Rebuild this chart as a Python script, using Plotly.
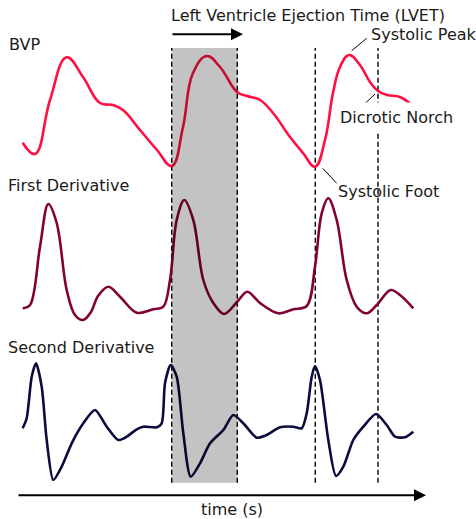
import plotly.graph_objects as go

W, H = 476, 519

# ---- data (time in arbitrary units, amplitudes in arbitrary units) ----
bvp_t = [22.7, 35, 50, 66.7, 83, 100, 113, 123, 140, 157, 171.7, 183, 193, 206.7, 220, 237, 247, 260,
         273, 290, 303, 315, 325, 333, 340, 349, 360, 370, 378, 387, 400, 411.7]
bvp_v = [27.3, 16, 70, 112.7, 93, 67, 65, 60, 40, 20, 4, 43, 97, 114, 103, 78, 74, 70,
         57, 33, 17, 3.3, 30, 77, 103, 115, 105, 88, 79, 75, 73, 65]

d1_t = [22.7, 30, 40, 48.3, 56.7, 66.7, 75, 83.3, 91, 98, 108.3, 120, 136.7, 153.3, 163.3, 170, 176.7, 184.3,
        193.3, 203.3, 213.3, 224, 237.3, 247.3, 260, 278.3, 293.3, 306.7, 315, 321.7, 328.3, 336.7,
        346.7, 356.7, 366.7, 376.7, 390.7, 400, 413.3]
d1_v = [11.7, 15, 73.3, 116, 97, 30, 5, 0, 8, 24, 33.3, 23.3, 7.3, 10.7, 13.3, 40, 100, 120,
        100, 40, 17, 6, 18.3, 28.3, 17, 6.7, 10.7, 14, 53.3, 106.7, 121.7, 100,
        40, 13.3, 6.7, 15, 30, 25, 11.7]

d2_t = [22.7, 26.7, 31.7, 36, 41.7, 46.7, 53.3, 61.7, 71.7, 83.3, 95, 106.7, 118.3, 126.7, 136.7, 143.3,
        156.7, 161.7, 165, 170.7, 176.7, 183.3, 190.7, 200, 210, 223.3, 233.3, 243.3, 256.7, 266.7,
        280, 293.3, 301.7, 306.7, 311.7, 315, 320, 328.3, 336, 343.3, 353.3, 363.3, 376, 386.7,
        395, 405, 413.3]
d2_v = [51.7, 61.7, 103.3, 116.7, 93.3, 40, 0, 13.3, 36.7, 56.7, 70, 53.3, 40, 43.3, 50.7, 53.3,
        52.7, 56.7, 96.7, 115, 103.3, 46.7, 3.3, 16.7, 36.7, 50, 65, 56.7, 42.3, 45,
        52.7, 53.3, 51.7, 66.7, 103.3, 114, 100, 40, 4, 13.3, 40, 53.3, 66, 55,
        43.3, 42.7, 48.3]

event_times = [171.7, 237.3, 315.3, 378.0]   # systolic foot / dicrotic notch markers
lvet_window = (171.7, 237.3)

labels = {
    "title": "Left Ventricle Ejection Time (LVET)",
    "bvp": "BVP",
    "d1": "First Derivative",
    "d2": "Second Derivative",
    "peak": "Systolic Peak",
    "notch": "Dicrotic Norch",
    "foot": "Systolic Foot",
    "xlabel": "time (s)",
}

# ---- helpers: pixel -> paper ----
def px(x):
    return x / W

def py(y):
    return 1 - y / H

FONT = dict(family="DejaVu Sans", size=16, color="#1a1a1a")

fig = go.Figure()

fig.add_trace(go.Scatter(x=bvp_t, y=bvp_v, mode="lines", line=dict(color="#ff1040", width=2.6, shape="spline", smoothing=1.2),
                         yaxis="y", hoverinfo="skip"))
fig.add_trace(go.Scatter(x=d1_t, y=d1_v, mode="lines", line=dict(color="#820035", width=2.6, shape="spline", smoothing=1.0),
                         yaxis="y2", hoverinfo="skip"))
fig.add_trace(go.Scatter(x=d2_t, y=d2_v, mode="lines", line=dict(color="#0b0b3d", width=2.6, shape="spline", smoothing=0.7),
                         yaxis="y3", hoverinfo="skip"))

def yrange(base_px):
    # amplitude v is drawn at pixel y = base_px - v
    return [base_px - H, base_px]

axis_common = dict(visible=False, fixedrange=True)
fig.update_layout(
    width=W, height=H,
    margin=dict(l=0, r=0, t=0, b=0),
    paper_bgcolor="white", plot_bgcolor="white",
    showlegend=False,
    xaxis=dict(range=[0, W], domain=[0, 1], **axis_common),
    yaxis=dict(range=yrange(170), domain=[0, 1], **axis_common),
    yaxis2=dict(range=yrange(320), domain=[0, 1], overlaying="y", **axis_common),
    yaxis3=dict(range=yrange(480), domain=[0, 1], overlaying="y", **axis_common),
)

shapes = []
shapes.append(dict(type="rect", xref="x", yref="paper", x0=lvet_window[0], x1=lvet_window[1],
                   y0=py(482.7), y1=py(48), fillcolor="rgba(0,0,0,0.235)", line=dict(width=0), layer="above"))
for t in event_times:
    shapes.append(dict(type="line", xref="x", yref="paper", x0=t, x1=t, y0=py(482.7), y1=py(48),
                       line=dict(color="black", width=1.4, dash="5px,3px"), layer="below"))
for (x0, y0, x1, y1) in [(351.7, 50.7, 366.7, 38.3), (375, 94, 360, 108.3), (322.7, 168.3, 336.7, 183.3)]:
    shapes.append(dict(type="line", xref="paper", yref="paper", x0=px(x0), y0=py(y0), x1=px(x1), y1=py(y1),
                       line=dict(color="black", width=1)))
fig.update_layout(shapes=shapes)

ann = []
def text(s, x, y, xanchor="left", bg=None, pad=1):
    d = dict(text=s, x=px(x), y=py(y), xref="paper", yref="paper", xanchor=xanchor, yanchor="middle",
             showarrow=False, font=FONT, borderpad=pad)
    if bg:
        d["bgcolor"] = bg
    ann.append(d)

text(labels["title"], 169, 16)
text(labels["bvp"], 7, 44)
text(labels["d1"], 6, 185)
text(labels["d2"], 6, 347)
text(labels["peak"], 369, 35)
text(labels["notch"], 334, 117, bg="white", pad=5)
text(labels["foot"], 336, 191.5)
text(labels["xlabel"], 232, 509, xanchor="center")

ann.append(dict(text="", x=px(243), y=py(34.3), xref="paper", yref="paper", ax=-72, ay=0,
                axref="pixel", ayref="pixel", showarrow=True, arrowhead=2, arrowsize=1.2, arrowwidth=2,
                arrowcolor="black"))
ann.append(dict(text="", x=px(426), y=py(495.3), xref="paper", yref="paper", ax=-409, ay=0,
                axref="pixel", ayref="pixel", showarrow=True, arrowhead=2, arrowsize=1.2, arrowwidth=2,
                arrowcolor="black"))
fig.update_layout(annotations=ann)

fig.write_html("out.html")
